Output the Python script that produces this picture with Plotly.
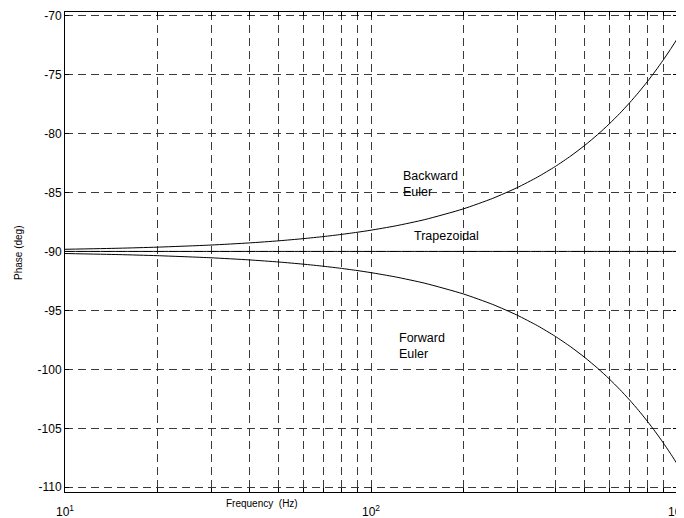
import plotly.graph_objects as go

freq = [10, 15, 20, 30, 40, 50, 60, 70, 80, 90, 100, 120, 150, 200, 250, 300, 350,
        400, 450, 500, 550, 600, 650, 700, 750, 800, 850, 900, 950, 1000]
backward_euler = [-89.82, -89.73, -89.64, -89.46, -89.28, -89.1, -88.92, -88.74, -88.56, -88.38,
                  -88.2, -87.84, -87.3, -86.4, -85.5, -84.6, -83.7,
                  -82.8, -81.9, -81.0, -80.1, -79.2, -78.3, -77.4, -76.5, -75.6, -74.7, -73.8, -72.9, -72.0]
forward_euler = [-90.18, -90.27, -90.36, -90.54, -90.72, -90.9, -91.08, -91.26, -91.44, -91.62,
                 -91.8, -92.16, -92.7, -93.6, -94.5, -95.4, -96.3,
                 -97.2, -98.1, -99.0, -99.9, -100.8, -101.7, -102.6, -103.5, -104.4, -105.3, -106.2, -107.1, -108.0]
trapezoidal = [-90.0] * len(freq)

x_major = [10, 100, 1000]
x_major_text = ["10<sup>1</sup>", "10<sup>2</sup>", "10<sup>3</sup>"]
x_minor = [20, 30, 40, 50, 60, 70, 80, 90, 200, 300, 400, 500, 600, 700, 800, 900]
y_tickvals = [-110, -105, -100, -95, -90, -85, -80, -75, -70]

font_family = "Liberation Sans, Arial, sans-serif"
grid_col = "#3a3a3a"
grid_dash = "8px,5px"

# page offset: browser body margin of 8px
OFF = 8
W, H = 684, 518
plot_l, plot_r, plot_t, plot_b = 65, 677, 12, 492  # page coords

fig = go.Figure()
for ys in (backward_euler, trapezoidal, forward_euler):
    fig.add_trace(go.Scatter(x=freq, y=ys, mode="lines", line=dict(color="black", width=1, shape="spline", smoothing=0.6),
                             showlegend=False, hoverinfo="skip"))

fig.update_layout(
    width=W, height=H,
    margin=dict(l=plot_l - OFF, r=W - (plot_r - OFF), t=plot_t - OFF, b=H - (plot_b - OFF), autoexpand=False),
    paper_bgcolor="white", plot_bgcolor="white",
    font=dict(family=font_family, size=12, color="black"),
    xaxis=dict(type="log", range=[1, 3], tickmode="array", tickvals=x_major, ticktext=x_major_text,
               showgrid=True, gridcolor=grid_col, gridwidth=1, griddash=grid_dash,
               showline=True, linecolor="black", linewidth=1, mirror="ticks",
               ticks="inside", ticklen=5, tickcolor="black", zeroline=False, automargin=False,
               ticklabelstandoff=9, tickfont=dict(size=12),
               minor=dict(tickmode="array", tickvals=x_minor, showgrid=True, gridcolor=grid_col,
                          gridwidth=1, griddash=grid_dash, ticks="inside", ticklen=4, tickcolor="black")),
    yaxis=dict(range=[-110.4, -69.7], tickmode="array", tickvals=y_tickvals,
               ticktext=[str(v) for v in y_tickvals],
               showgrid=True, gridcolor=grid_col, gridwidth=1, griddash=grid_dash,
               showline=True, linecolor="black", linewidth=1, mirror="ticks",
               ticks="inside", ticklen=4, tickcolor="black", zeroline=False, automargin=False,
               ticklabelstandoff=0, tickfont=dict(size=12)),
)

annos = [
    dict(x=401, y=184, text="Backward<br>Euler", size=12.5),
    dict(x=412, y=236.5, text="Trapezoidal", size=12.5),
    dict(x=397, y=345.5, text="Forward<br>Euler", size=12.5),
]
for a in annos:
    fig.add_annotation(x=(a["x"] - plot_l) / (plot_r - plot_l), y=(plot_b - a["y"]) / (plot_b - plot_t),
                       xref="paper", yref="paper", text=a["text"], xanchor="left", yanchor="middle",
                       align="left", showarrow=False, font=dict(size=a["size"], family=font_family))

fig.add_annotation(x=(262 - plot_l) / (plot_r - plot_l), y=(plot_b - 504) / (plot_b - plot_t),
                   xref="paper", yref="paper", text="Frequency  (Hz)", showarrow=False,
                   font=dict(size=10, family=font_family), xanchor="center", yanchor="middle")
fig.add_annotation(x=(18 - plot_l) / (plot_r - plot_l), y=(plot_b - 253) / (plot_b - plot_t),
                   xref="paper", yref="paper", text="Phase (deg)", textangle=-90, showarrow=False,
                   font=dict(size=10, family=font_family), xanchor="center", yanchor="middle")

fig.write_html("out.html")
